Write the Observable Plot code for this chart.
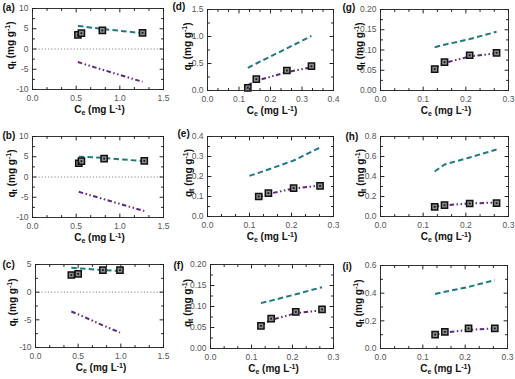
<!DOCTYPE html>
<html>
<head>
<meta charset="utf-8">
<script src="https://cdn.jsdelivr.net/npm/d3@7"></script>
<script src="https://cdn.jsdelivr.net/npm/@observablehq/plot@0.6"></script>
<style>
  body { margin: 0; background: #fff; }
  #chart { position: relative; width: 515px; height: 379px; overflow: hidden; background: #fff;
           font-family: "Liberation Sans", Arial, sans-serif; }
  .panel { position: absolute; }
</style>
</head>
<body>
<div id="chart"></div>
<script>
// ---------------- data ----------------
// Ce (mg/L) of experimental points, experimental qt, teal dashed fit, purple dash-dot fit
const ce_a = [0.52, 0.56, 0.80, 1.26];
const qexp_a = [3.5, 3.9, 4.6, 4.0];
const fitTeal_a = [5.7, 5.6, 4.95, 3.9];
const fitPurple_a = [-3.2, -3.5, -5.1, -8.1];

const ce_b = [0.53, 0.56, 0.82, 1.28];
const qexp_b = [3.4, 3.9, 4.55, 4.0];
const fitTeal_b = [5.0, 5.0, 4.7, 3.9];
const fitPurple_b = [-3.65, -3.85, -5.5, -8.4];

const ce_c = [0.42, 0.50, 0.79, 0.99];
const qexp_c = [3.1, 3.3, 4.0, 4.0];
const fitTeal_c = [4.4, 4.3, 4.0, 3.8];
const fitPurple_c = [-3.5, -4.0, -6.0, -7.3];

const ce_d = [0.128, 0.155, 0.252, 0.330];
const qexp_d = [0.05, 0.21, 0.37, 0.45];
const fitTeal_d = [0.42, 0.50, 0.78, 1.01];
const fitPurple_d = [0.10, 0.18, 0.34, 0.43];

const ce_e = [0.122, 0.145, 0.205, 0.268];
const qexp_e = [0.100, 0.117, 0.142, 0.153];
const ceTeal_e = [0.100, 0.145, 0.205, 0.268];
const fitTeal_e = [0.203, 0.235, 0.280, 0.345];
const fitPurple_e = [0.097, 0.113, 0.140, 0.155];

const ce_f = [0.123, 0.148, 0.208, 0.272];
const qexp_f = [0.054, 0.071, 0.087, 0.093];
const fitTeal_f = [0.108, 0.114, 0.129, 0.146];
const fitPurple_f = [0.055, 0.068, 0.084, 0.091];

const ce_g = [0.127, 0.150, 0.209, 0.272];
const qexp_g = [0.053, 0.070, 0.087, 0.093];
const fitTeal_g = [0.107, 0.113, 0.127, 0.145];
const fitPurple_g = [0.055, 0.068, 0.084, 0.092];

const ce_h = [0.127, 0.150, 0.209, 0.272];
const qexp_h = [0.097, 0.113, 0.130, 0.133];
const fitTeal_h = [0.45, 0.52, 0.59, 0.67];
const fitPurple_h = [0.098, 0.112, 0.130, 0.140];

const ce_i = [0.129, 0.152, 0.208, 0.270];
const qexp_i = [0.100, 0.120, 0.145, 0.145];
const fitTeal_i = [0.394, 0.410, 0.445, 0.495];
const fitPurple_i = [0.100, 0.115, 0.135, 0.145];

// tick labels
const xTicksWide = [0, 0.5, 1.0, 1.5];
const xTicksD = [0, 0.1, 0.2, 0.3, 0.4];
const xTicksNarrow = [0, 0.1, 0.2, 0.3];
const yTicksAB = [-10, -5, 0, 5, 10];
const yTicksC = [-10, -5, 0, 5];
const yTicksD = [0, 0.5, 1.0, 1.5];
const yTicksE = [0, 0.1, 0.2, 0.3, 0.4];
const yTicksFG = [0, 0.05, 0.10, 0.15, 0.20];
const yTicksH = [0, 0.2, 0.4, 0.6, 0.8];
const yTicksI = [0, 0.2, 0.4, 0.6];
const panelLabels = ["(a)", "(b)", "(c)", "(d)", "(e)", "(f)", "(g)", "(h)", "(i)"];

// ---------------- layout ----------------
const TEAL = "#1d7a84";
const PURPLE = "#5e2880";
const FONT = "'Liberation Sans', Arial, sans-serif";

const panels = [
  {ce: ce_a, q: qexp_a, t: fitTeal_a, p: fitPurple_a, xt: xTicksWide, yt: yTicksAB, xd: 1, yd: 0, zero: true,
   x0: 0, y0: 0, w: 170, h: 125, fr: [32, 163, 8, 89], lab: [2, 7], ytx: -22},
  {ce: ce_b, q: qexp_b, t: fitTeal_b, p: fitPurple_b, xt: xTicksWide, yt: yTicksAB, xd: 1, yd: 0, zero: true,
   x0: 0, y0: 125, w: 170, h: 125, fr: [32, 163, 136, 217], lab: [2, 10.5], ytx: -21},
  {ce: ce_c, q: qexp_c, t: fitTeal_c, p: fitPurple_c, xt: xTicksWide, yt: yTicksC, xd: 1, yd: 0, zero: true,
   x0: 0, y0: 250, w: 170, h: 129, fr: [35, 163, 264, 347], lab: [2, 14], ytx: -23},
  {ce: ce_d, q: qexp_d, t: fitTeal_d, p: fitPurple_d, xt: xTicksD, yt: yTicksD, xd: 1, yd: 1,
   x0: 170, y0: 0, w: 170, h: 125, fr: [207, 333, 9, 90], lab: [2, 6], ytx: -20},
  {ce: ce_e, q: qexp_e, tce: ceTeal_e, t: fitTeal_e, p: fitPurple_e, xt: xTicksNarrow, yt: yTicksE, xd: 1, yd: 1,
   x0: 170, y0: 125, w: 170, h: 125, fr: [207, 333, 136, 216], lab: [7, 8.5], ytx: -19},
  {ce: ce_f, q: qexp_f, t: fitTeal_f, p: fitPurple_f, xt: xTicksNarrow, yt: yTicksFG, xd: 1, yd: 2,
   x0: 170, y0: 250, w: 170, h: 129, fr: [210, 333, 264, 348], lab: [3, 15], ytx: -23},
  {ce: ce_g, q: qexp_g, t: fitTeal_g, p: fitPurple_g, xt: xTicksNarrow, yt: yTicksFG, xd: 1, yd: 2,
   x0: 340, y0: 0, w: 175, h: 125, fr: [380, 508, 9, 90], lab: [2, 7], ytx: -21},
  {ce: ce_h, q: qexp_h, t: fitTeal_h, p: fitPurple_h, xt: xTicksNarrow, yt: yTicksH, xd: 1, yd: 1,
   x0: 340, y0: 125, w: 175, h: 125, fr: [380, 508, 136, 216], lab: [5, 11], ytx: -20},
  {ce: ce_i, q: qexp_i, t: fitTeal_i, p: fitPurple_i, xt: xTicksNarrow, yt: yTicksI, xd: 1, yd: 1,
   x0: 340, y0: 250, w: 175, h: 129, fr: [380, 507, 265, 348], lab: [2, 16], ytx: -22}
];

function minorTicks(ticks, n) {
  const out = [];
  for (let k = 0; k < ticks.length - 1; k++) {
    const a = ticks[k], b = ticks[k + 1];
    for (let j = 1; j < n; j++) out.push(a + (b - a) * j / n);
  }
  return out;
}

// straight tick shape for Plot.vector (drawn from the anchor point inward)
const tickShape = {draw(context, l) { context.moveTo(0, 0); context.lineTo(0, -l); }};
function inwardTicks(values, side, len) {
  const common = {shape: tickShape, anchor: "start", length: len, stroke: "#222", strokeWidth: 1, frameAnchor: side};
  if (side === "bottom") return Plot.vector(values, {...common, x: d => d, rotate: 0});
  if (side === "top") return Plot.vector(values, {...common, x: d => d, rotate: 180});
  if (side === "left") return Plot.vector(values, {...common, y: d => d, rotate: 90});
  return Plot.vector(values, {...common, y: d => d, rotate: -90});
}

const chart = document.getElementById("chart");

panels.forEach((P, idx) => {
  const [fl, frr, ft, fb] = P.fr;
  const mL = fl - P.x0, mR = P.x0 + P.w - frr, mT = ft - P.y0, mB = P.y0 + P.h - fb;
  const pts = P.ce.map((c, i) => ({ce: c, q: P.q[i]}));
  const tce = P.tce || P.ce;
  const teal = tce.map((c, i) => ({ce: c, q: P.t[i]}));
  const purple = P.ce.map((c, i) => ({ce: c, q: P.p[i]}));
  const xMin = minorTicks(P.xt, 3);
  const yMin = minorTicks(P.yt, 2);

  const marks = [];
  if (P.zero) marks.push(Plot.ruleY([0], {stroke: "#8a8a8a", strokeWidth: 1, strokeDasharray: "1.2,2"}));
  marks.push(
    Plot.line(teal, {x: "ce", y: "q", stroke: TEAL, strokeWidth: 2, strokeLinecap: "butt", strokeDasharray: "5.5,3.2"}),
    Plot.line(purple, {x: "ce", y: "q", stroke: PURPLE, strokeWidth: 2, strokeLinecap: "butt", strokeDasharray: "4.5,2.5,1.5,2.5,1.5,2.5"}),
    Plot.dot(pts, {x: "ce", y: "q", symbol: "square", r: 3.5, fill: "#8c8c8c", stroke: "#111", strokeWidth: 1.5}),
    Plot.dot(pts, {x: "ce", y: "q", symbol: "square", r: 1, fill: "#111"}),
    Plot.frame({stroke: "#333", strokeWidth: 1}),
    // tick labels
    Plot.axisX({anchor: "bottom", ticks: P.xt, tickSize: 0, tickPadding: 5, label: null,
      tickFormat: d => d.toFixed(P.xd), fill: "#555", fontSize: 8.5}),
    Plot.axisY({anchor: "left", ticks: P.yt, tickSize: 0, tickPadding: 4, label: null,
      tickFormat: d => d.toFixed(P.yd), fill: "#555", fontSize: 8.5}),
    // inward ticks on all four sides
    inwardTicks(P.xt, "bottom", 3.5), inwardTicks(xMin, "bottom", 2),
    inwardTicks(P.xt, "top", 3.5), inwardTicks(xMin, "top", 2),
    inwardTicks(P.yt, "left", 3.5), inwardTicks(yMin, "left", 2),
    inwardTicks(P.yt, "right", 3.5), inwardTicks(yMin, "right", 2),
    // panel label
    Plot.text([panelLabels[idx]], {frameAnchor: "top-left", text: d => d, dx: P.lab[0] - mL, dy: P.lab[1] - mT,
      textAnchor: "start", lineAnchor: "middle", fontWeight: "bold", fontSize: 10, fill: "#111"})
  );

  const svg = Plot.plot({
    width: P.w, height: P.h,
    marginLeft: mL, marginRight: mR, marginTop: mT, marginBottom: mB,
    x: {domain: [P.xt[0], P.xt[P.xt.length - 1]]},
    y: {domain: [P.yt[0], P.yt[P.yt.length - 1]]},
    style: {fontFamily: FONT, fontSize: "9px", background: "transparent", overflow: "visible"},
    marks
  });

  // axis titles with sub/superscripts
  const s = d3.select(svg);
  const xt = s.append("text")
    .attr("x", mL + (P.w - mL - mR) / 2 + 2).attr("y", P.h - mB + 24)
    .attr("text-anchor", "middle")
    .style("font", `bold 10px ${FONT}`).attr("fill", "#111");
  xt.append("tspan").text("C");
  xt.append("tspan").attr("dy", 2).attr("font-size", 7).text("e");
  xt.append("tspan").attr("dy", -2).text(" (mg L");
  xt.append("tspan").attr("dy", -3.5).attr("font-size", 7).text("-1");
  xt.append("tspan").attr("dy", 3.5).text(")");

  const cy = mT + (P.h - mT - mB) / 2 - 3;
  const yt = s.append("text")
    .attr("transform", `translate(${mL + P.ytx + 3.5},${cy}) rotate(-90)`)
    .attr("text-anchor", "middle")
    .style("font", `bold 10px ${FONT}`).attr("fill", "#111");
  yt.append("tspan").text("q");
  yt.append("tspan").attr("dy", 2).attr("font-size", 7).text("t");
  yt.append("tspan").attr("dy", -2).text(" (mg g");
  yt.append("tspan").attr("dy", -3.5).attr("font-size", 7).text("-1");
  yt.append("tspan").attr("dy", 3.5).text(")");

  const wrap = document.createElement("div");
  wrap.className = "panel";
  wrap.style.left = P.x0 + "px";
  wrap.style.top = P.y0 + "px";
  wrap.appendChild(svg);
  chart.appendChild(wrap);
});
</script>
</body>
</html>
